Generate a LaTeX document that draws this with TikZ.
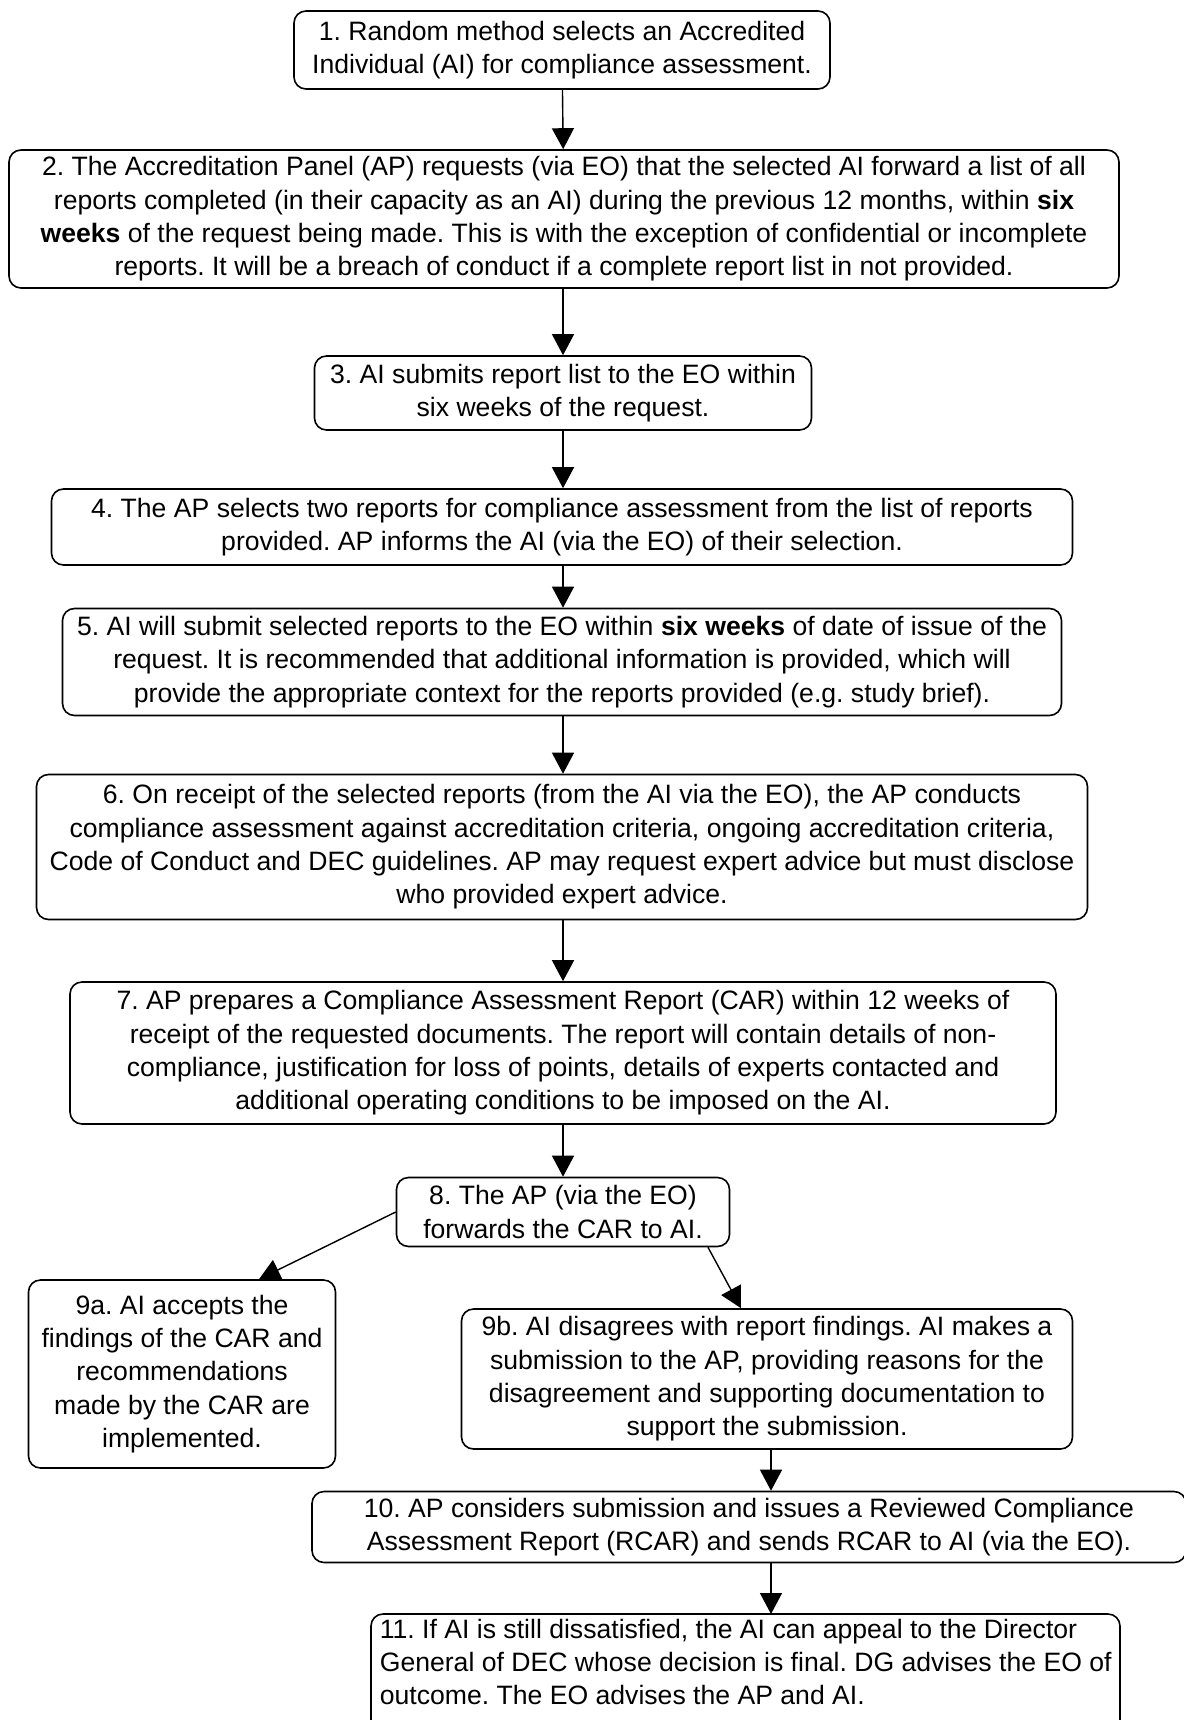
\documentclass[tikz,border=0pt]{standalone}
\usepackage{fontspec}
\setmainfont{Liberation Sans}
\usetikzlibrary{arrows.meta}
\frenchspacing

\begin{document}
\begin{tikzpicture}[x=1pt,y=-1pt,
  box/.style={draw,line width=1.6pt,rounded corners=12pt,inner sep=0pt,align=center,
    font=\fontsize{26.6}{33.3}\selectfont},
  arr/.style={line width=1.4pt,-{Triangle[length=21pt,width=22pt]}}]
\useasboundingbox (0,0) rectangle (1183,1720);
\node[box,minimum width=536pt,minimum height=78pt] (b1) at (562,50)
  {1. Random method selects an Accredited\\Individual (AI) for compliance assessment.};
\node[box,minimum width=1110pt,minimum height=138pt] (b2) at (564,219)
  {2. The Accreditation Panel (AP) requests (via EO) that the selected AI forward a list of all\\
   reports completed (in their capacity as an AI) during the previous 12 months, within \textbf{six}\\
   \textbf{weeks} of the request being made. This is with the exception of confidential or incomplete\\
   reports. It will be a breach of conduct if a complete report list in not provided.};
\node[box,minimum width=497pt,minimum height=74pt] (b3) at (563,393)
  {3. AI submits report list to the EO within\\six weeks of the request.};
\node[box,minimum width=1021pt,minimum height=76pt] (b4) at (562,527)
  {4. The AP selects two reports for compliance assessment from the list of reports\\
   provided. AP informs the AI (via the EO) of their selection.};
\node[box,minimum width=999pt,minimum height=107pt] (b5) at (562,662)
  {5. AI will submit selected reports to the EO within \textbf{six weeks} of date of issue of the\\
   request. It is recommended that additional information is provided, which will\\
   provide the appropriate context for the reports provided (e.g. study brief).};
\node[box,minimum width=1051pt,minimum height=145pt] (b6) at (562,847)
  {6. On receipt of the selected reports (from the AI via the EO), the AP conducts\\
   compliance assessment against accreditation criteria, ongoing accreditation criteria,\\
   Code of Conduct and DEC guidelines. AP may request expert advice but must disclose\\
   who provided expert advice.};
\node[box,minimum width=986pt,minimum height=142pt] (b7) at (563,1053)
  {7. AP prepares a Compliance Assessment Report (CAR) within 12 weeks of\\
   receipt of the requested documents. The report will contain details of non-\\
   compliance, justification for loss of points, details of experts contacted and\\
   additional operating conditions to be imposed on the AI.};
\node[box,minimum width=333pt,minimum height=69pt] (b8) at (563,1212)
  {8. The AP (via the EO)\\forwards the CAR to AI.};
\node[box,minimum width=307pt,minimum height=188pt] (b9a) at (182,1374)
  {9a. AI accepts the\\findings of the CAR and\\recommendations\\made by the CAR are\\implemented.};
\node[box,minimum width=611pt,minimum height=140pt] (b9b) at (767,1379)
  {9b. AI disagrees with report findings. AI makes a\\
   submission to the AP, providing reasons for the\\
   disagreement and supporting documentation to\\
   support the submission.};
\node[box,minimum width=874pt,minimum height=71pt] (b10) at (749,1527)
  {10. AP considers submission and issues a Reviewed Compliance\\
   Assessment Report (RCAR) and sends RCAR to AI (via the EO).};
\node[box,draw=none,align=left,inner xsep=8pt,inner ysep=4pt,anchor=north west] (b11) at (371,1614)
  {11. If AI is still dissatisfied, the AI can appeal to the Director\\
   General of DEC whose decision is final. DG advises the EO of\\
   outcome. The EO advises the AP and AI.};
\draw[line width=1.6pt,rounded corners=12pt] (371,1614) rectangle (1120,1750);
\draw[arr] (b1) -- (b2);
\draw[arr] (b2.south -| b3.north) -- (b3.north);
\draw[arr] (b3) -- (b4.north -| b3.south);
\draw[arr] (b4.south -| b3.south) -- (b5.north -| b3.south);
\draw[arr] (b5.south -| b3.south) -- (b6.north -| b3.south);
\draw[arr] (b6.south -| b3.south) -- (b7.north -| b3.south);
\draw[arr] (b7) -- (b8);
\draw[arr] (b8.west) -- ([xshift=77pt]b9a.north);
\draw[arr] ([xshift=145pt]b8.south) -- ([xshift=-26pt]b9b.north);
\draw[arr] ([xshift=4pt]b9b.south) -- ([xshift=4pt]b9b.south |- b10.north);
\draw[arr] ([xshift=4pt]b9b.south |- b10.south) -- ([xshift=4pt]b9b.south |- b11.north);
\end{tikzpicture}
\end{document}
